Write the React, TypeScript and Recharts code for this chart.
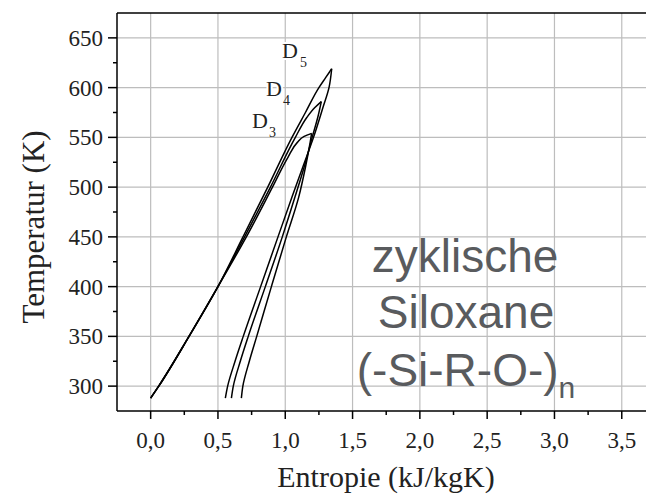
import React from 'react';
import { LineChart, Line, XAxis, YAxis, ReferenceLine } from 'recharts';

// Entropy (kJ/kgK) and temperature (K) along saturation curves
const D5_LIQ_S = [0, 0.06, 0.285, 0.5, 0.686, 0.87, 1.05, 1.15, 1.25, 1.3, 1.33, 1.345];
const D5_LIQ_T = [288, 300, 350, 400, 450, 500, 550, 575, 600, 610, 616, 619];
const D5_VAP_S = [0.555, 0.572, 0.627, 0.688, 0.817, 0.946, 1.05, 1.13, 1.21, 1.28, 1.325, 1.345];
const D5_VAP_T = [288, 300, 325, 350, 400, 450, 490, 520, 550, 580, 600, 619];

const D4_LIQ_S = [0, 0.06, 0.285, 0.5, 0.698, 0.89, 1.075, 1.16, 1.22, 1.268];
const D4_LIQ_T = [288, 300, 350, 400, 450, 500, 550, 570, 580, 586];
const D4_VAP_S = [0.6, 0.614, 0.666, 0.725, 0.852, 0.978, 1.072, 1.14, 1.2, 1.245, 1.268];
const D4_VAP_T = [288, 300, 325, 350, 400, 450, 490, 520, 550, 572, 586];

const D3_LIQ_S = [0, 0.06, 0.285, 0.5, 0.711, 0.905, 1.02, 1.09, 1.14, 1.196];
const D3_LIQ_T = [288, 300, 350, 400, 450, 500, 530, 545, 551, 554];
const D3_VAP_S = [0.674, 0.685, 0.733, 0.788, 0.897, 1.008, 1.1, 1.15, 1.185, 1.196];
const D3_VAP_T = [288, 300, 325, 350, 400, 450, 490, 520, 545, 554];

const X_TICKS = [0, 0.25, 0.5, 0.75, 1, 1.25, 1.5, 1.75, 2, 2.25, 2.5, 2.75, 3, 3.25, 3.5];
const Y_TICKS = [300, 325, 350, 375, 400, 425, 450, 475, 500, 525, 550, 575, 600, 625, 650];
const X_GRID = [0, 0.5, 1, 1.5, 2, 2.5, 3, 3.5];
const Y_GRID = [300, 350, 400, 450, 500, 550, 600, 650];

const zip = (s: number[], t: number[]) => s.map((v, i) => ({ s: v, T: t[i] }));

const SERIES = [
  { name: 'D5 liquid', data: zip(D5_LIQ_S, D5_LIQ_T) },
  { name: 'D5 vapour', data: zip(D5_VAP_S, D5_VAP_T) },
  { name: 'D4 liquid', data: zip(D4_LIQ_S, D4_LIQ_T) },
  { name: 'D4 vapour', data: zip(D4_VAP_S, D4_VAP_T) },
  { name: 'D3 liquid', data: zip(D3_LIQ_S, D3_LIQ_T) },
  { name: 'D3 vapour', data: zip(D3_VAP_S, D3_VAP_T) },
];

const SERIF = '"Liberation Serif", "Times New Roman", serif';
const SANS = '"Liberation Sans", Arial, sans-serif';

const XTick = (props: any) => {
  const { x, y, payload } = props;
  const v = payload.value;
  const major = Math.abs(v * 2 - Math.round(v * 2)) < 1e-6;
  return (
    <g>
      <line x1={x} x2={x} y1={y} y2={y + (major ? 8 : 4)} stroke="#000" strokeWidth={1.5} />
      {major && (
        <text x={x} y={y + 37} textAnchor="middle" fontFamily={SERIF} fontSize={23} fill="#222">
          {v.toFixed(1).replace('.', ',')}
        </text>
      )}
    </g>
  );
};

const YTick = (props: any) => {
  const { x, y, payload } = props;
  const v = payload.value;
  const major = v % 50 === 0;
  return (
    <g>
      <line x1={x - (major ? 9 : 4)} x2={x} y1={y} y2={y} stroke="#000" strokeWidth={1.5} />
      {major && (
        <text x={x - 14} y={y + 8} textAnchor="end" fontFamily={SERIF} fontSize={23} fill="#222">
          {v}
        </text>
      )}
    </g>
  );
};

export default function App() {
  return (
    <div style={{ position: 'absolute', left: 0, top: 0, width: 646, height: 498, overflow: 'hidden', background: '#fff' }}>
      <LineChart width={646} height={498} margin={{ top: 13, right: 0, bottom: 0, left: 0 }}>
        <XAxis
          dataKey="s"
          type="number"
          domain={[-0.25, 3.68]}
          ticks={X_TICKS}
          interval={0}
          allowDataOverflow
          height={87}
          tickSize={0}
          tickMargin={0}
          tickLine={false}
          tick={<XTick />}
          axisLine={{ stroke: '#000', strokeWidth: 1.5 }}
        />
        <YAxis
          dataKey="T"
          type="number"
          domain={[275, 675]}
          ticks={Y_TICKS}
          interval={0}
          allowDataOverflow
          width={117}
          tickSize={0}
          tickMargin={0}
          tickLine={false}
          tick={<YTick />}
          axisLine={{ stroke: '#000', strokeWidth: 1.5 }}
        />
        {X_GRID.map((v) => (
          <ReferenceLine key={'gx' + v} x={v} stroke="#bdbdbd" strokeWidth={1.2} />
        ))}
        {Y_GRID.map((v) => (
          <ReferenceLine key={'gy' + v} y={v} stroke="#bdbdbd" strokeWidth={1.2} />
        ))}
        <ReferenceLine y={675} stroke="#000" strokeWidth={1.5} />
        {SERIES.map((sr) => (
          <Line
            key={sr.name}
            name={sr.name}
            data={sr.data}
            dataKey="T"
            type="monotoneY"
            stroke="#000"
            strokeWidth={1.5}
            dot={false}
            isAnimationActive={false}
          />
        ))}
      </LineChart>
      <svg width={646} height={498} style={{ position: 'absolute', left: 0, top: 0, pointerEvents: 'none' }}>
        <text x={386} y={487} textAnchor="middle" fontFamily={SERIF} fontSize={30} fill="#222">
          Entropie (kJ/kgK)
        </text>
        <text transform="translate(44,227) rotate(-90)" textAnchor="middle" fontFamily={SERIF} fontSize={31} fill="#222">
          Temperatur (K)
        </text>
        <g fontFamily={SERIF} fontSize={22}>
          <text x={282} y={58} fill="#222" stroke="#fff" strokeWidth={4} paintOrder="stroke">D</text>
          <text x={300} y={67} fontSize={14} fill="#222">5</text>
          <text x={266} y={96} fill="#222" stroke="#fff" strokeWidth={4} paintOrder="stroke">D</text>
          <text x={283} y={105} fontSize={14} fill="#222">4</text>
          <text x={252} y={128} fill="#222" stroke="#fff" strokeWidth={4} paintOrder="stroke">D</text>
          <text x={269} y={137} fontSize={14} fill="#222">3</text>
        </g>
        <g fontFamily={SANS} fill="#595b5e" fontSize={46} textAnchor="middle">
          <text x={465} y={272}>zyklische</text>
          <text x={466} y={328}>Siloxane</text>
          <text x={466} y={386}>(-Si-R-O-)<tspan fontSize={30} dy={12}>n</tspan></text>
        </g>
      </svg>
    </div>
  );
}
